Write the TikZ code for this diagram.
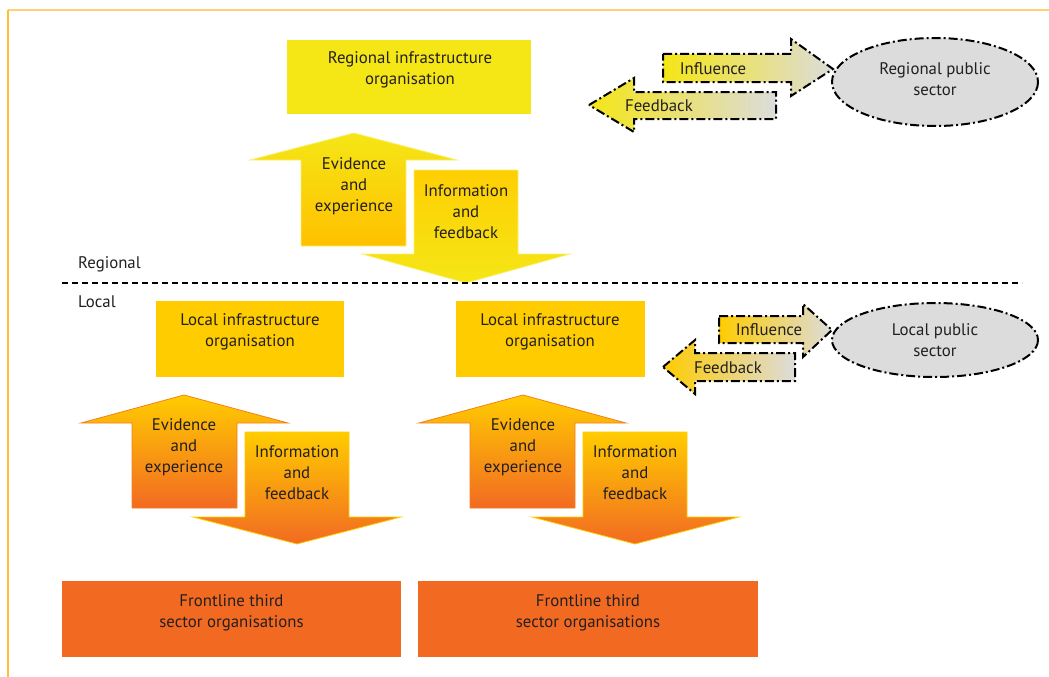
\documentclass[tikz,border=0pt]{standalone}
\usepackage{fontspec}
\setmainfont{PT Sans}
\definecolor{txtc}{HTML}{231F20}
\definecolor{regy}{HTML}{F5E616}
\definecolor{locy}{HTML}{FFCC00}
\definecolor{fro}{HTML}{F26A22}
\definecolor{greyf}{HTML}{DCDCDC}
\definecolor{bordtop}{HTML}{FFD27A}
\definecolor{bordleft}{HTML}{FFBE3C}
\begin{document}
\begin{tikzpicture}[x=1pt,y=-1pt,
  txt/.style={font=\fontsize{16.8}{20.8}\selectfont, text=txtc, align=center, inner sep=0pt},
  dashdot/.style={draw=black, line width=2pt, dash pattern=on 9pt off 3pt on 2pt off 3pt},
  regarrowup/.style={draw=regy!60!white, line width=0.8pt, top color=regy, bottom color=locy!85!orange},
  regarrowdn/.style={draw=regy!60!white, line width=0.8pt, top color=locy!90!regy, bottom color=regy},
  locarrowup/.style={draw=fro!80!locy, line width=0.8pt, top color=locy, bottom color=fro},
  locarrowdn/.style={draw=locy, line width=0.8pt, top color=locy, bottom color=fro}
]
\useasboundingbox (0,0) rectangle (1049,677);
% frame
\draw[bordtop, line width=2pt] (8,10) -- (1049,10);
\draw[bordleft, line width=1.5pt] (8,10) -- (8,677);

% regional box
\fill[regy] (287,40) rectangle (531,114);
\node[txt] (regbox) at (410,69.5) {Regional infrastructure\\organisation};

% regional arrows
\path[regarrowup] (301,246) -- (301,160) -- (250,160) -- (354,133) -- (457,160) -- (406,160) -- (406,246) -- cycle;
\node[txt] (regup) at (354,186) {Evidence\\and\\experience};
\path[regarrowdn] (414,170) -- (518,170) -- (518,254) -- (570,254) -- (466,283) -- (362,254) -- (414,254) -- cycle;
\node[txt] (regdn) at (466,211.5) {Information\\and\\feedback};

% separator
\draw[black, line width=2pt, dash pattern=on 6pt off 4pt] (62,283) -- (1022,283);
\node[txt, anchor=west] (lblreg) at (78,264.5) {Regional};
\node[txt, anchor=west] (lblloc) at (78,301.5) {Local};

% local boxes
\fill[locy] (156,301) rectangle (344,377);
\node[txt] (locbox1) at (250,332) {Local infrastructure\\organisation};
\fill[locy] (456,301) rectangle (645,377);
\node[txt] (locbox2) at (550,332) {Local infrastructure\\organisation};

% local arrows 1
\path[locarrowup] (132,508) -- (132,423) -- (81,423) -- (184,395) -- (288,423) -- (237,423) -- (237,508) -- cycle;
\node[txt] (locup1) at (184,447.5) {Evidence\\and\\experience};
\path[locarrowdn] (245,432) -- (349,432) -- (349,517) -- (401,517) -- (297,544) -- (193,517) -- (245,517) -- cycle;
\node[txt] (locdn1) at (297,472.5) {Information\\and\\feedback};

% local arrows 2
\path[locarrowup] (470,508) -- (470,423) -- (419,423) -- (523,395) -- (626,423) -- (575,423) -- (575,508) -- cycle;
\node[txt] (locup2) at (523,447.5) {Evidence\\and\\experience};
\path[locarrowdn] (583,432) -- (687,432) -- (687,517) -- (739,517) -- (635,544) -- (532,517) -- (583,517) -- cycle;
\node[txt] (locdn2) at (635,472.5) {Information\\and\\feedback};

% frontline boxes
\fill[fro] (62,581) rectangle (401,657);
\node[txt] (front1) at (231.5,612.5) {Frontline third\\sector organisations};
\fill[fro] (418,581) rectangle (758,657);
\node[txt] (front2) at (588,612.5) {Frontline third\\sector organisations};

% regional public sector
\path[dashdot, fill=greyf] (935,82) ellipse [x radius=103, y radius=44];
\node[txt] (regpub) at (935,79) {Regional public\\sector};
\path[dashdot, left color=regy, right color=greyf] (663,54) -- (791,54) -- (791,39) -- (833,69) -- (791,96) -- (791,82) -- (663,82) -- cycle;
\node[txt] (reginf) at (713,68.5) {Influence};
\path[dashdot, left color=regy, right color=greyf] (589,105) -- (634,78) -- (634,92) -- (776,92) -- (776,119) -- (634,119) -- (634,132) -- cycle;
\node[txt] (regfb) at (659,105.5) {Feedback};

% local public sector
\path[dashdot, fill=greyf] (935,340) ellipse [x radius=103, y radius=37];
\node[txt] (locpub) at (935,340) {Local public\\sector};
\path[dashdot, left color=locy, right color=greyf] (719,316) -- (803,316) -- (803,304) -- (832,330) -- (803,357) -- (803,343) -- (719,343) -- cycle;
\node[txt] (locinf) at (769,329.5) {Influence};
\path[dashdot, left color=locy, right color=greyf] (663,367) -- (695,340) -- (695,353) -- (795,353) -- (795,381) -- (695,381) -- (695,394) -- cycle;
\node[txt] (locfb) at (728,367.5) {Feedback};
\end{tikzpicture}
\end{document}
